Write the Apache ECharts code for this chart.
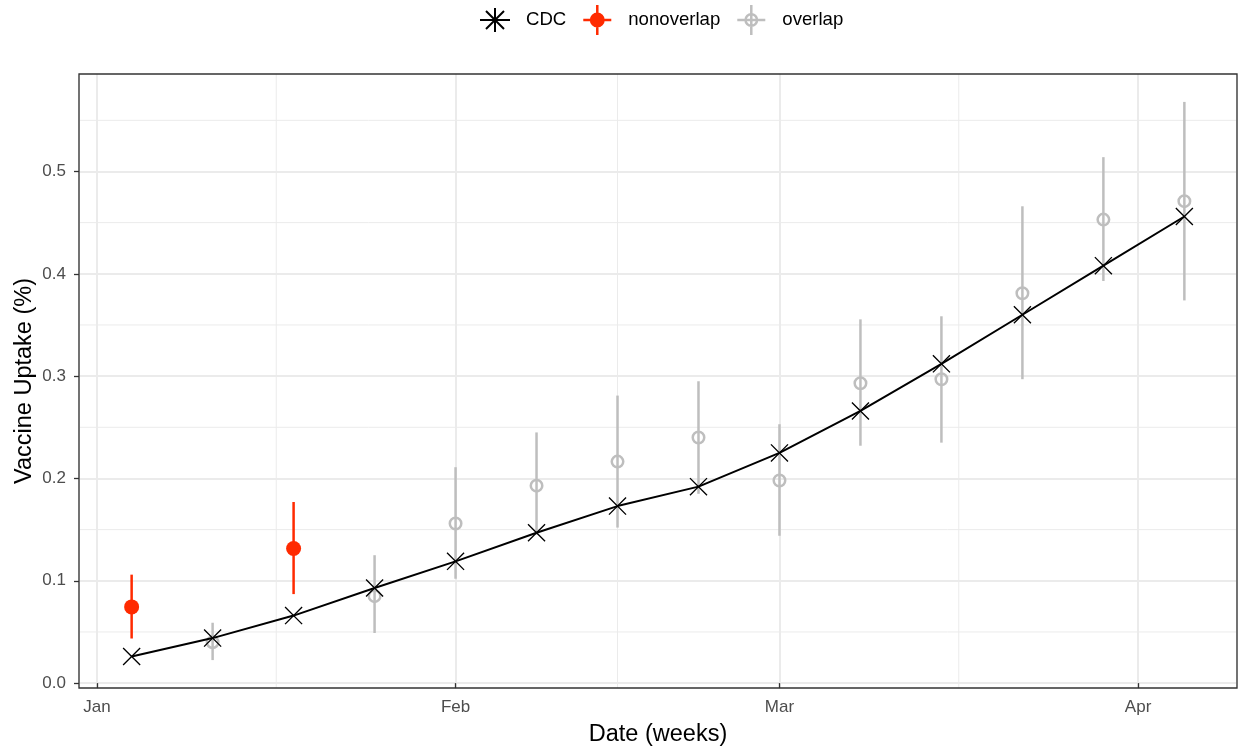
<!DOCTYPE html>
<html>
<head>
<meta charset="utf-8">
<script src="https://cdn.jsdelivr.net/npm/echarts@6/dist/echarts.min.js"></script>
<style>
  html, body { margin: 0; padding: 0; background: #ffffff; }
  #chart { width: 1238px; height: 748px; }
</style>
</head>
<body>
<div id="chart"></div>
<script>
// ---- data ----
const weeks = ['2021-01-04','2021-01-11','2021-01-18','2021-01-25','2021-02-01','2021-02-08','2021-02-15',
               '2021-02-22','2021-03-01','2021-03-08','2021-03-15','2021-03-22','2021-03-29','2021-04-05'];
const cdcUptake = [0.026, 0.044, 0.066, 0.093, 0.119, 0.147, 0.173, 0.192, 0.225, 0.266, 0.312, 0.360, 0.408, 0.456];
const estUptake = [0.0745, 0.040, 0.1315, 0.085, 0.156, 0.193, 0.2165, 0.240, 0.198, 0.293, 0.297, 0.381, 0.453, 0.471];
const estLower  = [0.0436, 0.0225, 0.087, 0.049, 0.102, 0.145, 0.152, 0.185, 0.144, 0.232, 0.235, 0.297, 0.393, 0.374];
const estUpper  = [0.106, 0.059, 0.177, 0.125, 0.211, 0.245, 0.281, 0.295, 0.253, 0.3555, 0.3585, 0.466, 0.514, 0.568];
const estGroup  = ['nonoverlap','overlap','nonoverlap','overlap','overlap','overlap','overlap',
                   'overlap','overlap','overlap','overlap','overlap','overlap','overlap'];
const monthBreaks = ['2021-01-01','2021-02-01','2021-03-01','2021-04-01'];
const monthLabels = ['Jan','Feb','Mar','Apr'];
const yTicks = [0, 0.1, 0.2, 0.3, 0.4, 0.5];
const yTickLabels = ['0.0','0.1','0.2','0.3','0.4','0.5'];
const yMinorBreaks = [0.05, 0.15, 0.25, 0.35, 0.45, 0.55];

// ---- helpers ----
function toTs(s) { const p = s.split('-').map(Number); return new Date(p[0], p[1] - 1, p[2]).getTime(); }
const weekTs = weeks.map(toTs);
const monthTs = monthBreaks.map(toTs);
const xMinorTs = [];
for (let i = 0; i + 1 < monthTs.length; i++) xMinorTs.push((monthTs[i] + monthTs[i + 1]) / 2);

// ggplot-like 5% expansion
const xSpan = weekTs[weekTs.length - 1] - weekTs[0];
const xMin = weekTs[0] - 0.05 * xSpan, xMax = weekTs[weekTs.length - 1] + 0.05 * xSpan;
const allY = cdcUptake.concat(estLower, estUpper);
const yLo = Math.min.apply(null, allY), yHi = Math.max.apply(null, allY);
const yMin = yLo - 0.05 * (yHi - yLo), yMax = yHi + 0.05 * (yHi - yLo);

const RED = '#ff2a00', GREY = '#bebebe';
const FONT = 'Liberation Sans, Arial, Helvetica, sans-serif';

const X_PATH = 'path://M0.5,-0.5 L18.5,17.5 L17.5,18.5 L-0.5,0.5 Z M17.5,-0.5 L18.5,0.5 L0.5,18.5 L-0.5,17.5 Z';
const RING_PATH = 'path://M0,7 A7,7 0 1 1 14,7 A7,7 0 1 1 0,7 Z M2.5,7 A4.5,4.5 0 1 0 11.5,7 A4.5,4.5 0 1 0 2.5,7 Z';
const ICON_CDC = 'path://M15,0 L15.02,0 L15,0.02 Z M15,30 L15.02,30 L15,29.98 Z ' +
  'M0,14 L30,14 L30,16 L0,16 Z M14,3 L16,3 L16,27 L14,27 Z ' +
  'M6.7,5.3 L24.7,23.3 L23.3,24.7 L5.3,6.7 Z M23.3,5.3 L24.7,6.7 L6.7,24.7 L5.3,23.3 Z';
const ICON_NON = 'path://M1,13.75 L29,13.75 L29,16.25 L1,16.25 Z M13.75,0 L16.25,0 L16.25,30 L13.75,30 Z ' +
  'M7.5,15 A7.5,7.5 0 1 1 22.5,15 A7.5,7.5 0 1 1 7.5,15 Z';
const ICON_OVL = 'path://M1,13.75 L29,13.75 L29,16.25 L1,16.25 Z M13.75,0 L16.25,0 L16.25,30 L13.75,30 Z ' +
  'M8,15 A7,7 0 1 1 22,15 A7,7 0 1 1 8,15 Z M10.5,15 A4.5,4.5 0 1 0 19.5,15 A4.5,4.5 0 1 0 10.5,15 Z';

function groupData(g, fn) {
  const out = [];
  for (let i = 0; i < weekTs.length; i++) if (estGroup[i] === g) out.push(fn(i));
  return out;
}
function errRender(color) {
  return function (params, api) {
    const a = api.coord([api.value(0), api.value(1)]);
    const b = api.coord([api.value(0), api.value(2)]);
    return { type: 'line', shape: { x1: a[0], y1: a[1], x2: b[0], y2: b[1] },
             style: { stroke: color, lineWidth: 2.5 } };
  };
}

const chart = echarts.init(document.getElementById('chart'), null, { renderer: 'canvas' });
chart.setOption({
  animation: false,
  backgroundColor: '#ffffff',
  textStyle: { fontFamily: FONT },
  legend: {
    top: 5, left: 480, padding: 0,
    itemWidth: 30, itemHeight: 30, itemGap: 17,
    textStyle: { fontSize: 18.6, color: '#000', fontFamily: FONT, padding: [0, 0, 0, 11] },
    data: [
      { name: 'CDC', icon: ICON_CDC, itemStyle: { color: '#000', borderWidth: 0 } },
      { name: 'nonoverlap', icon: ICON_NON, itemStyle: { color: RED, borderWidth: 0 } },
      { name: 'overlap', icon: ICON_OVL, itemStyle: { color: GREY, borderWidth: 0 } }
    ]
  },
  grid: { left: 79, right: 1, top: 74, bottom: 60, show: true, z: 10,
          outerBoundsMode: 'none', containLabel: false,
          borderColor: '#333333', borderWidth: 1.3, backgroundColor: 'transparent' },
  xAxis: {
    type: 'time', min: xMin, max: xMax,
    minInterval: 28 * 86400000, maxInterval: 31 * 86400000,
    name: 'Date (weeks)', nameLocation: 'middle', nameGap: 35, nameMoveOverlap: false,
    nameTextStyle: { fontSize: 23.5, color: '#000', fontFamily: FONT },
    axisLine: { show: false },
    axisTick: { show: true, length: 5, lineStyle: { color: '#333333', width: 1.3 } },
    axisLabel: {
      margin: 11, fontSize: 17, color: '#4d4d4d', fontFamily: FONT,
      hideOverlap: false,
      formatter: function (v) {
        for (let i = 0; i < monthTs.length; i++) if (Math.abs(monthTs[i] - v) < 3600000) return monthLabels[i];
        return '';
      }
    },
    splitLine: { show: true, lineStyle: { color: '#ebebeb', width: 2 } },
    minorTick: { show: false },
    minorSplitLine: { show: false }
  },
  yAxis: {
    type: 'value', min: yMin, max: yMax,
    name: 'Vaccine Uptake (%)', nameLocation: 'middle', nameGap: 42, nameMoveOverlap: false,
    nameTextStyle: { fontSize: 23.5, color: '#000', fontFamily: FONT },
    axisLine: { show: false },
    axisTick: { show: true, length: 5, customValues: yTicks, lineStyle: { color: '#333333', width: 1.3 } },
    axisLabel: {
      customValues: yTicks, margin: 13, fontSize: 17, color: '#4d4d4d', fontFamily: FONT,
      formatter: function (v) {
        for (let i = 0; i < yTicks.length; i++) if (Math.abs(yTicks[i] - v) < 1e-6) return yTickLabels[i];
        return '';
      }
    },
    splitLine: { show: true, lineStyle: { color: '#ebebeb', width: 2 } }
  },
  series: [
    { // minor vertical grid lines
      type: 'custom', name: '_xminor', silent: true, z: 1, clip: true,
      encode: { x: 0, y: 1 },
      data: xMinorTs.map(t => [t, yTicks[0]]),
      renderItem: function (params, api) {
        const x = api.coord([api.value(0), api.value(1)])[0];
        const cs = params.coordSys;
        return { type: 'line', shape: { x1: x, y1: cs.y, x2: x, y2: cs.y + cs.height },
                 style: { stroke: '#ebebeb', lineWidth: 1 } };
      }
    },
    { // minor horizontal grid lines
      type: 'custom', name: '_yminor', silent: true, z: 1, clip: true,
      encode: { x: 0, y: 1 },
      data: yMinorBreaks.map(v => [weekTs[0], v]),
      renderItem: function (params, api) {
        const y = api.coord([api.value(0), api.value(1)])[1];
        const cs = params.coordSys;
        return { type: 'line', shape: { x1: cs.x, y1: y, x2: cs.x + cs.width, y2: y },
                 style: { stroke: '#ebebeb', lineWidth: 1 } };
      }
    },
    {
      type: 'custom', name: 'nonoverlap', silent: true, z: 3,
      itemStyle: { color: RED },
      encode: { x: 0, y: [1, 2] },
      data: groupData('nonoverlap', i => [weekTs[i], estLower[i], estUpper[i]]),
      renderItem: errRender(RED)
    },
    {
      type: 'custom', name: 'overlap', silent: true, z: 3,
      itemStyle: { color: GREY },
      encode: { x: 0, y: [1, 2] },
      data: groupData('overlap', i => [weekTs[i], estLower[i], estUpper[i]]),
      renderItem: errRender(GREY)
    },
    {
      type: 'scatter', name: 'nonoverlap', silent: true, z: 4,
      symbol: 'circle', symbolSize: 15,
      itemStyle: { color: RED, opacity: 1 },
      data: groupData('nonoverlap', i => [weekTs[i], estUptake[i]])
    },
    {
      type: 'scatter', name: 'overlap', silent: true, z: 4,
      symbol: RING_PATH, symbolSize: 14,
      itemStyle: { color: GREY, opacity: 1 },
      data: groupData('overlap', i => [weekTs[i], estUptake[i]])
    },
    {
      type: 'line', name: 'CDC', silent: true, z: 5,
      symbol: X_PATH, symbolSize: 18, showAllSymbol: true,
      lineStyle: { color: '#000', width: 2 },
      itemStyle: { color: '#000', borderWidth: 0 },
      data: weekTs.map((t, i) => [t, cdcUptake[i]])
    }
  ]
});
</script>
</body>
</html>
